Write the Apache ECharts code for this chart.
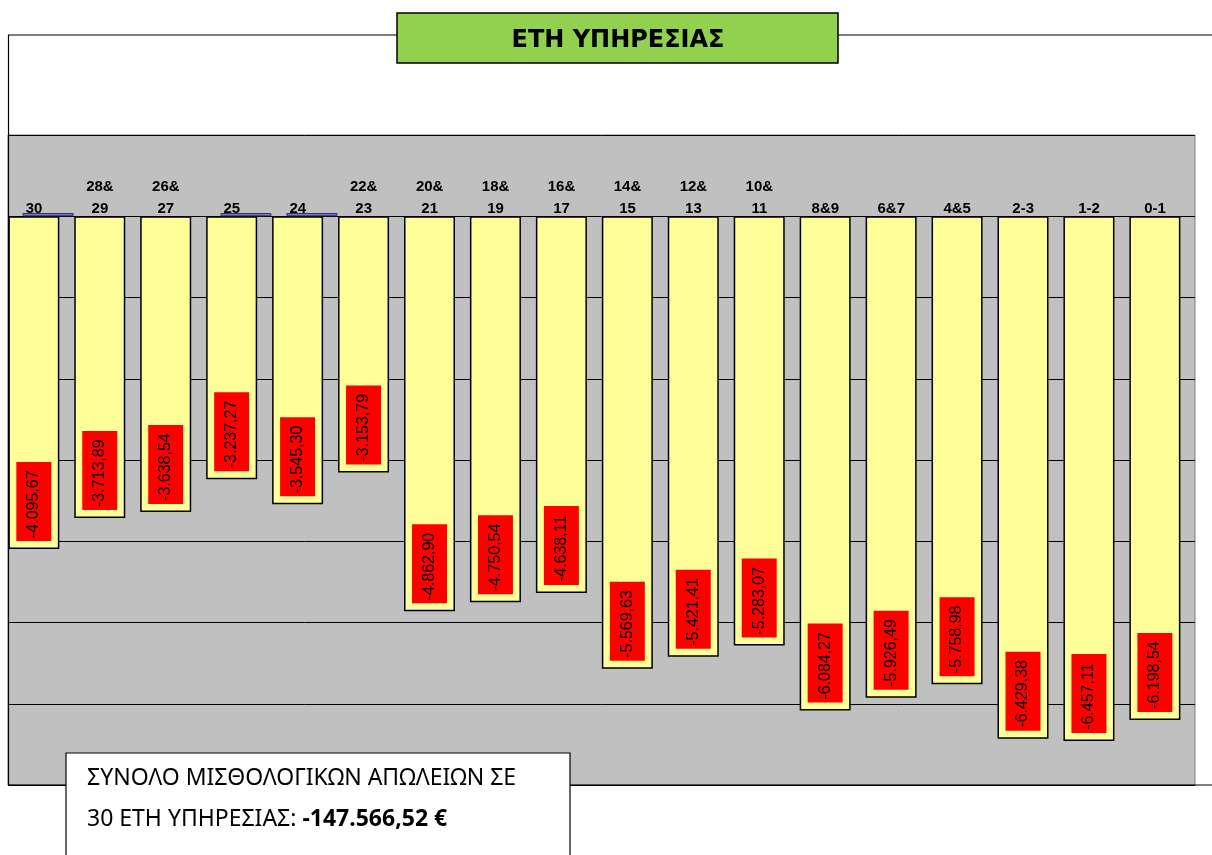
<!DOCTYPE html>
<html>
<head>
<meta charset="utf-8">
<script src="https://cdn.jsdelivr.net/npm/echarts@6/dist/echarts.min.js"></script>
<style>
    html, body { margin: 0; padding: 0; background: #fff; }
    #chart { width: 1212px; height: 855px; }
</style>
</head>
<body>
<div id="chart"></div>
<script>
var categories = ['30', '28&\n29', '26&\n27', '25', '24', '22&\n23', '20&\n21', '18&\n19', '16&\n17',
    '14&\n15', '12&\n13', '10&\n11', '8&9', '6&7', '4&5', '2-3', '1-2', '0-1'];
var losses = [-4095.67, -3713.89, -3638.54, -3237.27, -3545.30, -3153.79, -4862.90, -4750.54, -4638.11,
    -5569.63, -5421.41, -5283.07, -6084.27, -5926.49, -5758.98, -6429.38, -6457.11, -6198.54];
var smallBars = [40, null, null, 40, 40, null, null, null, null,
    null, null, null, null, null, null, null, null, null];
var yTicks = { min: -7000, max: 1000, step: 1000 };
var titleText = 'ΕΤΗ ΥΠΗΡΕΣΙΑΣ';
var totalLine1 = 'ΣΥΝΟΛΟ ΜΙΣΘΟΛΟΓΙΚΩΝ ΑΠΩΛΕΙΩΝ ΣΕ';
var totalLine2 = '30 ΕΤΗ ΥΠΗΡΕΣΙΑΣ: ';
var totalValue = '-147.566,52 €';

function fmtNum(v) {
    var parts = Math.abs(v).toFixed(2).split('.');
    var intPart = parts[0].replace(/\B(?=(\d{3})+(?!\d))/g, '.');
    return (v < 0 ? '-' : '') + intPart + ',' + parts[1];
}

var myChart = echarts.init(document.getElementById('chart'));

var option = {
    backgroundColor: '#fff',
    animation: false,
    grid: {
        left: 8,
        right: 17,
        top: 135,
        bottom: 70,
        show: true,
        backgroundColor: '#c0c0c0',
        borderColor: '#808080',
        borderWidth: 1
    },
    xAxis: {
        type: 'category',
        position: 'top',
        offset: -81,   // sit the names on the zero line
        data: categories,
        axisLine: { show: false },
        axisTick: { show: false },
        axisLabel: {
            interval: 0,
            color: '#000',
            fontFamily: 'Liberation Sans',
            fontWeight: 'bold',
            fontSize: 15,
            lineHeight: 22,
            margin: -4,
            padding: [0, 14, 0, 0]
        }
    },
    yAxis: {
        type: 'value',
        min: yTicks.min,
        max: yTicks.max,
        interval: yTicks.step,
        axisLine: { show: false },
        axisTick: { show: false },
        axisLabel: { show: false },
        splitLine: { lineStyle: { color: '#000', width: 1 } }
    },
    series: [{
        name: 'losses',
        type: 'bar',
        barWidth: 51,
        barGap: '-72%',
        data: losses,
        itemStyle: {
            color: '#ffff99',
            borderColor: '#000',
            borderWidth: 1.5
        },
        label: {
            show: true,
            position: 'insideBottom',
            rotate: 90,
            align: 'left',
            verticalAlign: 'middle',
            distance: 8,
            color: '#000',
            fontFamily: 'Arial, "Liberation Sans"',
            fontSize: 16,
            lineHeight: 16,
            width: 73,
            overflow: 'none',
            backgroundColor: '#ff0000',
            padding: [10, 3, 9, 3],
            formatter: function (p) { return fmtNum(p.value); }
        }
    }, {
        name: 'small',
        type: 'bar',
        barWidth: 51,
        data: smallBars,
        itemStyle: {
            color: '#7777cc',
            borderColor: '#333366',
            borderWidth: 1
        }
    }],
    graphic: [{
        type: 'polyline',
        z: 50,
        shape: { points: [[397, 35], [8.5, 35], [8.5, 785], [1212, 785]] },
        style: { stroke: '#000', lineWidth: 1.2, fill: null }
    }, {
        type: 'line',
        z: 50,
        shape: { x1: 838, y1: 35, x2: 1212, y2: 35 },
        style: { stroke: '#000', lineWidth: 1.2 }
    }, {
        type: 'rect',
        z: 60,
        shape: { x: 397, y: 13, width: 441, height: 50 },
        style: { fill: '#92d050', stroke: '#000', lineWidth: 1.5 }
    }, {
        type: 'text',
        z: 61,
        x: 618,
        y: 41,
        style: {
            text: titleText,
            fill: '#000',
            font: 'bold 24px "DejaVu Sans"',
            align: 'center',
            verticalAlign: 'middle'
        }
    }, {
        type: 'rect',
        z: 60,
        shape: { x: 66, y: 753, width: 504, height: 110 },
        style: { fill: '#fff', stroke: '#000', lineWidth: 1.2 }
    }, {
        type: 'text',
        z: 61,
        x: 87,
        y: 758,
        style: {
            text: '{n|' + totalLine1 + '}\n{n|' + totalLine2 + '}{b|' + totalValue + '}',
            rich: {
                n: { fontFamily: 'Noto Sans', fontSize: 23, lineHeight: 41, fill: '#000' },
                b: { fontFamily: 'Noto Sans', fontSize: 23, fontWeight: 'bold', lineHeight: 41, fill: '#000' }
            }
        }
    }]
};

myChart.setOption(option);
</script>
</body>
</html>
